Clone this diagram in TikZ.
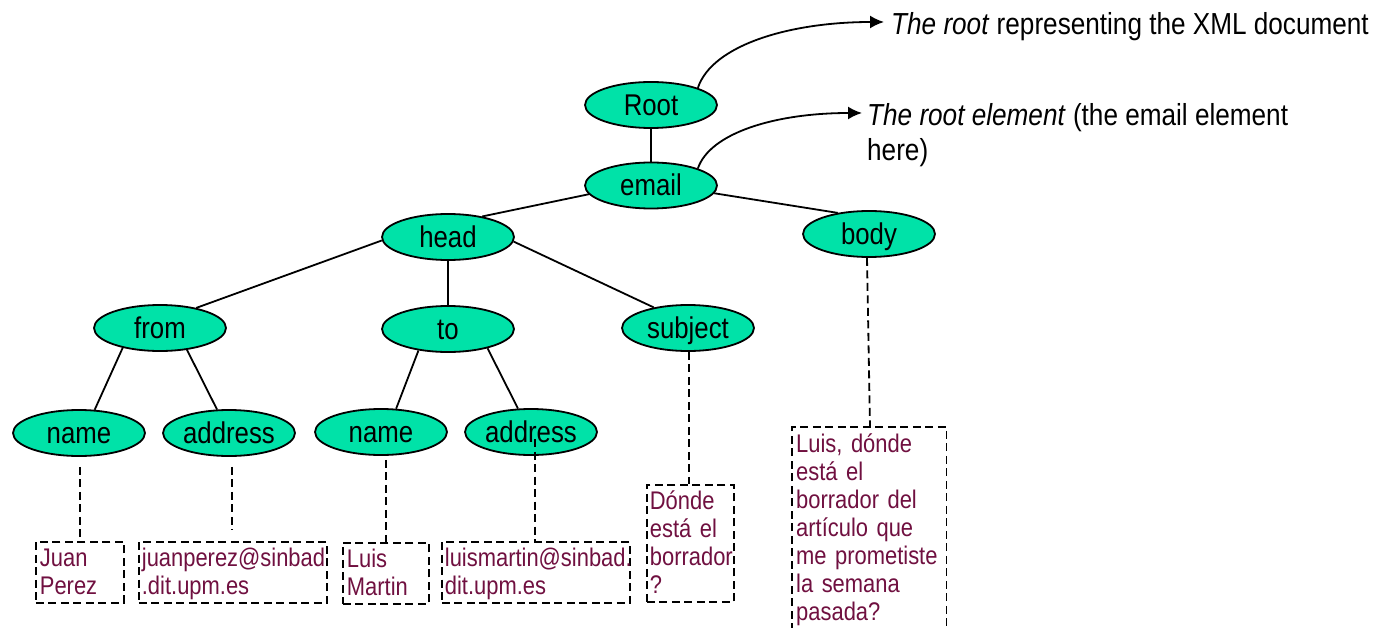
\documentclass[tikz,border=0pt]{standalone}
\usepackage{fontspec}
\setmainfont{Liberation Sans}[FakeStretch=0.86]
\usetikzlibrary{arrows.meta,shapes.geometric}
\definecolor{nodegreen}{RGB}{0,226,168}
\definecolor{txtred}{RGB}{112,16,64}
\newcommand\lnstr{\rule[-5pt]{0pt}{27pt}}
\begin{document}
\begin{tikzpicture}[x=1pt,y=-1pt,
  elem/.style={ellipse,draw,line width=1.8pt,fill=nodegreen,minimum width=132pt,minimum height=46pt,inner sep=0pt,font=\fontsize{30}{34}\selectfont,text height=21pt,text depth=0pt},
  tline/.style={line width=1.8pt},
  dl/.style={line width=1.8pt,dash pattern=on 8pt off 4.5pt},
  txtbox/.style={anchor=north west,align=left,inner xsep=4pt,inner ysep=3pt,font=\fontsize{25.5}{28}\selectfont,text=txtred},
  boxed/.style={txtbox,draw,dl},
  ann/.style={font=\fontsize{30.4}{35}\selectfont,align=left,inner sep=0pt},
  annarrow/.style={line width=1.8pt,-{Latex[length=14pt,width=13pt]}}
]
\useasboundingbox[fill=white] (0,0) rectangle (1380,628);

% tree nodes
\node[elem] (root) at (651,105) {Root};
\node[elem] (email) at (651,185.5) {email};
\node[elem] (head) at (448,237) {head};
\node[elem] (body) at (869,234) {body};
\node[elem] (from) at (160,328) {from};
\node[elem] (to) at (448,329) {to};
\node[elem] (subject) at (688,328) {subject};
\node[elem] (name1) at (79,433) {name};
\node[elem] (address1) at (229,433) {address};
\node[elem] (name2) at (381,432) {name};
\node[elem] (address2) at (531,432) {address};

% solid connectors
\draw[tline] (root.south) -- (email.north);
\draw[tline] (email.188) -- (head.31);
\draw[tline] (email.353) -- (body.146);
\draw[tline] (head.183) -- (from.29);
\draw[tline] (head.south) -- (to.north);
\draw[tline] (head.356) -- (subject.149);
\draw[tline] (from.208) -- (name1.56);
\draw[tline] (from.321) -- (address1.117);
\draw[tline] (to.216) -- (name2.57);
\draw[tline] (to.334) -- (address2.119);

% text boxes
\node[boxed,text width=80pt] (b1) at (35,541) {\lnstr Juan\\\lnstr Perez};
\node[boxed,text width=182pt,inner xsep=3pt] (b2) at (138,541) {\lnstr juanperez@sinbad\\\lnstr .dit.upm.es};
\node[boxed,text width=78pt] (b3) at (342,542) {\lnstr Luis\\\lnstr Martin};
\node[boxed,text width=182pt,inner xsep=3pt] (b4) at (441,541) {\lnstr luismartin@sinbad.\\\lnstr dit.upm.es};
\node[boxed,text width=81pt,inner xsep=3pt] (b5) at (646,484) {\lnstr Dónde\\\lnstr está el\\\lnstr borrador\\\lnstr ?};
\node[txtbox,text width=146pt] (b6) at (792,427) {\lnstr Luis, dónde\\\lnstr está el\\\lnstr borrador del\\\lnstr artículo que\\\lnstr me prometiste\\\lnstr la semana\\\lnstr pasada?};
\draw[dl] ([yshift=-40pt]b6.south west) -- (b6.north west) -- (b6.north east) -- ([yshift=-40pt]b6.south east);

% dashed connectors
\draw[dl] ([xshift=1pt,yshift=-10pt]name1.south) -- ([xshift=1pt]name1.south |- b1.north);
\draw[dl] ([xshift=3pt,yshift=-10pt]address1.south) -- ([xshift=3pt,yshift=11pt]address1.south |- b2.north);
\draw[dl] ([xshift=5pt,yshift=-4pt]name2.south) -- ([xshift=5pt]name2.south |- b3.north);
\draw[dl] ([xshift=4pt,yshift=-7pt]address2.center) -- ([xshift=4pt]address2.center |- b4.north);
\draw[dl] ([xshift=1pt]subject.south) -- ([xshift=1pt]subject.south |- b5.north);
\draw[dl] ([xshift=-2pt]body.south) -- ([xshift=1pt]body.south |- b6.north);

% annotations
\node[ann,anchor=base west] (t1) at (891,35) {\textit{The root} representing the XML document};
\coordinate (a1) at (884,22);
\draw[annarrow] (root.20) .. controls (712,45) and (790,22) .. (a1);
\node[ann,anchor=north west] (t2) at (867,100) {\rule{0pt}{25pt}\textit{The root element} (the email element\\here)};
\coordinate (a2) at (862,113);
\draw[annarrow] (email.20) .. controls (710,133) and (775,113) .. (a2);
\end{tikzpicture}
\end{document}
